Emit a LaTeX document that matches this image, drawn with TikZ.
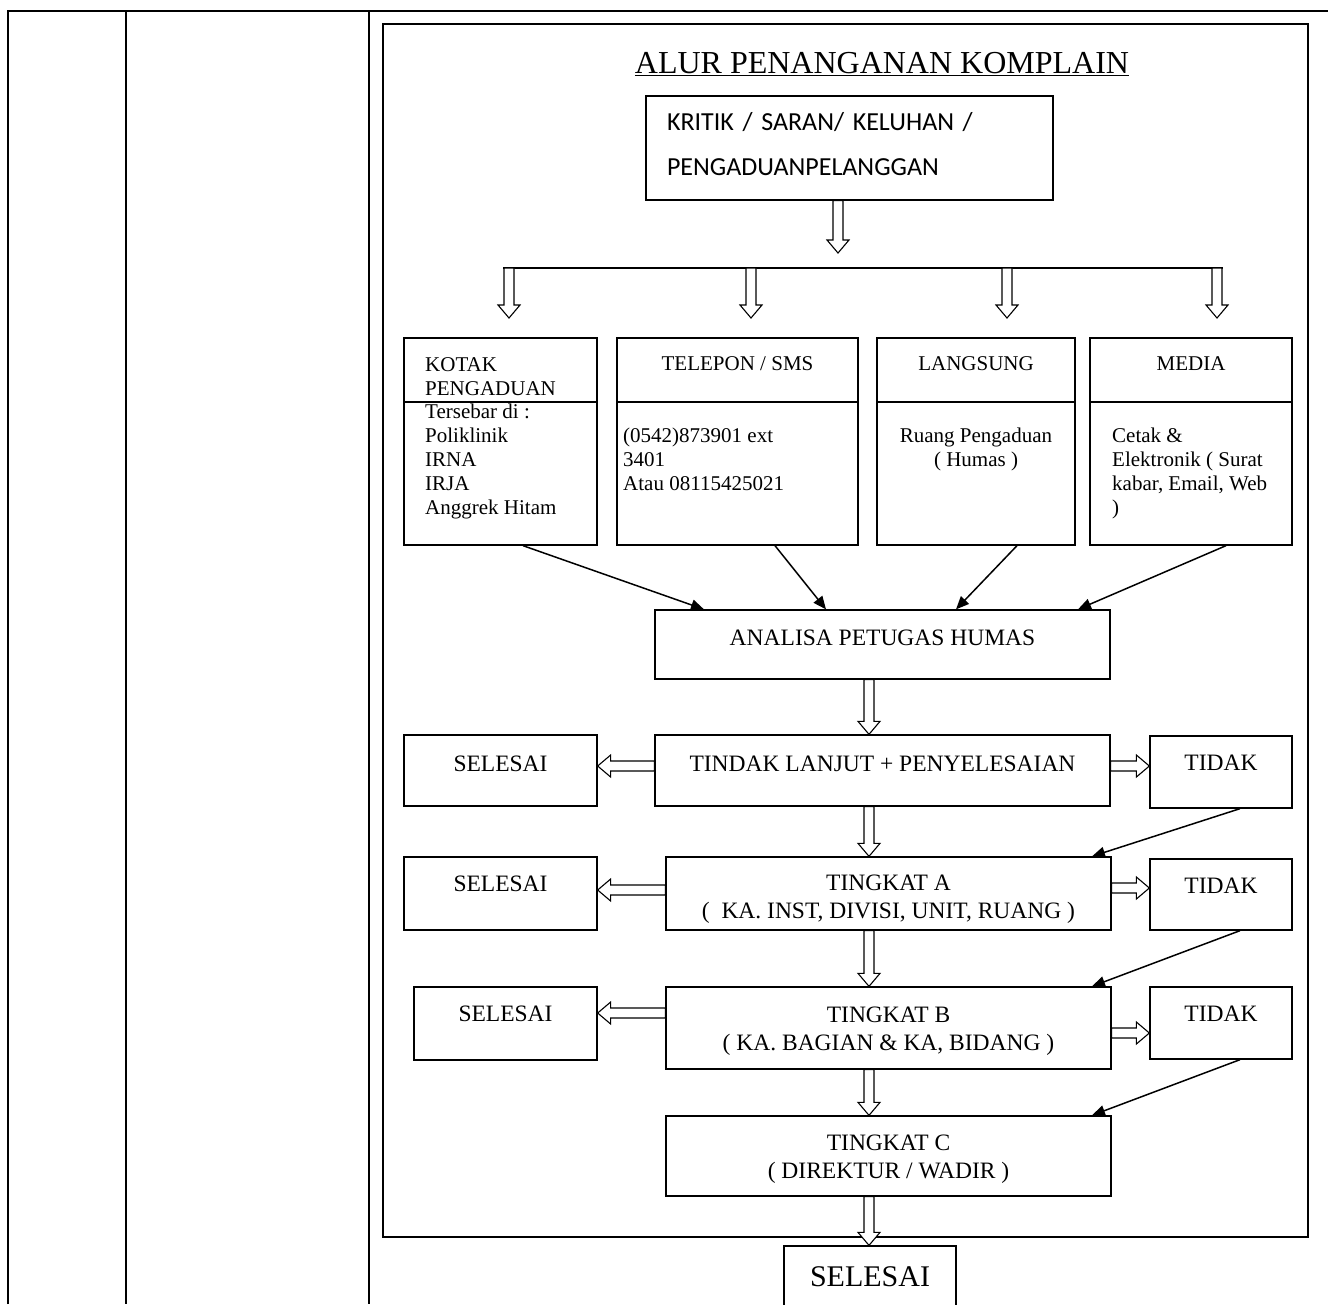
\documentclass[tikz,border=0pt]{standalone}
\usepackage{fontspec}
\setmainfont{Liberation Serif}
\newfontfamily\sansfont{Carlito}
\usetikzlibrary{calc,arrows.meta}
\tikzset{>={Triangle[length=13pt,width=11pt]}}
\tikzset{box/.style={draw,line width=1.3pt,inner sep=0pt,align=center,font=\fontsize{23.5}{28}\selectfont},
	src/.style={draw,line width=1.3pt,inner sep=0pt},
	txt/.style={inner sep=0pt,align=left,font=\fontsize{21}{23.8}\selectfont},
	fat/.style={draw,fill=white,line width=1.1pt,line join=miter},
	slantarrow/.style={->,line width=1.5pt},
	gridline/.style={line width=2.3pt},
	frameline/.style={line width=2pt},
	lift/.style={text height=16pt,text depth=#1},
	twoline/.style={text height=#1,text depth=0pt}}
\newcommand{\drawbox}{\node[box]}
\newcommand{\drawdummy}{\coordinate}
% hollow block arrow from #1 to #2
\newcommand{\hollow}[2]{\draw[fat] ($(#1)!5pt!90:(#2)$) -- ($(#2)!13pt!(#1)!5pt!90:(#2)$)
	-- ($(#2)!13pt!(#1)!11pt!90:(#2)$) -- (#2) -- ($(#2)!13pt!(#1)!11pt!-90:(#2)$)
	-- ($(#2)!13pt!(#1)!5pt!-90:(#2)$) -- ($(#1)!5pt!-90:(#2)$) -- cycle;}

\begin{document}
\begin{tikzpicture}[x=1pt,y=-1pt]
	\useasboundingbox (0,0) rectangle (1328,1304);
	
	\draw[gridline] (8,1304) -- (8,11) -- (1328,11);
	\draw[gridline] (126,11) -- (126,1304);
	\draw[gridline] (369,11) -- (369,1304);
	\draw[frameline] (383,24) rectangle (1308,1237);
	
	\node[font=\fontsize{32}{36}\selectfont] (title) at (882,64) {\underline{ALUR PENANGANAN KOMPLAIN}};
	\drawbox[minimum width=407pt,minimum height=104pt,align=left,text width=365pt,
		font=\sansfont\fontsize{26}{45}\selectfont,text height=19pt,text depth=55pt] (kritik) at (849.5,148)
		{KRITIK / SARAN/ KELUHAN /\\PENGADUANPELANGGAN};
	
	% sumber pengaduan
	\node[src,minimum width=193pt,minimum height=207pt] (kotak) at (500.5,441.5) {};
	\node[src,minimum width=241pt,minimum height=207pt] (telp) at (737.5,441.5) {};
	\node[src,minimum width=198pt,minimum height=207pt] (lgs) at (976,441.5) {};
	\node[src,minimum width=202pt,minimum height=207pt] (media) at (1191,441.5) {};
	\foreach \n in {kotak,telp,lgs,media}
		\draw[line width=1.3pt] (\n.west |- 0,402) -- (\n.east |- 0,402);
	
	\node[txt,anchor=base west] (kotakt) at (425,514) {KOTAK\\PENGADUAN\\Tersebar di :\\Poliklinik\\IRNA\\IRJA\\Anggrek Hitam};
	\node[txt,anchor=base] (telph) at (737.5,370) {TELEPON / SMS};
	\node[txt,anchor=base west] (telpt) at (623,490) {(0542)873901 ext\\3401\\Atau 08115425021};
	\node[txt,anchor=base] (lgsh) at (976,370) {LANGSUNG};
	\node[txt,anchor=base,align=center] (lgst) at (976,466) {Ruang Pengaduan\\( Humas )};
	\node[txt,anchor=base] (mediah) at (1191,370) {MEDIA};
	\node[txt,anchor=base west] (mediat) at (1112,514) {Cetak \&\\Elektronik ( Surat\\kabar, Email, Web\\)};
	
	\drawbox[minimum width=455pt,minimum height=69pt,lift=15pt] (anl) at (882.5,644.5) {ANALISA PETUGAS HUMAS};
	\drawbox[minimum width=455pt,minimum height=71pt,lift=15pt] (tl) at (882.5,770.5) {TINDAK LANJUT + PENYELESAIAN};
	\drawbox[minimum width=193pt,minimum height=71pt,lift=15pt] (sel1) at (500.5,770.5) {SELESAI};
	\drawbox[minimum width=142pt,minimum height=72pt,lift=20pt] (tdk1) at (1221,772) {TIDAK};
	
	\drawbox[minimum width=445pt,minimum height=73pt,twoline=50pt] (ta) at (888.5,893.5) {TINGKAT A\\(~~KA. INST, DIVISI, UNIT, RUANG )};
	\drawbox[minimum width=193pt,minimum height=73pt,lift=21pt] (sel2) at (500.5,893.5) {SELESAI};
	\drawbox[minimum width=142pt,minimum height=71pt,lift=19pt] (tdk2) at (1221,894.5) {TIDAK};
	
	\drawbox[minimum width=445pt,minimum height=82pt,twoline=44pt] (tb) at (888.5,1028) {TINGKAT B\\( KA. BAGIAN \& KA, BIDANG )};
	\drawbox[minimum width=183pt,minimum height=73pt,lift=21pt] (sel3) at (505.5,1023.5) {SELESAI};
	\drawbox[minimum width=142pt,minimum height=72pt,lift=20pt] (tdk3) at (1221,1023) {TIDAK};
	
	\drawbox[minimum width=445pt,minimum height=80pt,twoline=44pt] (tc) at (888.5,1156) {TINGKAT C\\( DIREKTUR / WADIR )};
	\drawbox[minimum width=172pt,minimum height=74pt,font=\fontsize{30}{36}\selectfont,
		text height=20pt,text depth=14pt] (sel4) at (870,1283) {SELESAI};
	
	% panah
	\drawdummy (fork) at (838,253);
	\hollow{kritik.south -| fork}{fork};
	\foreach \x [count=\i] in {509,751,1007,1217} {
		\drawdummy (br\i) at (\x,268);
		\drawdummy (in\i) at (\x,318);
	}
	\draw[line width=1.5pt] ($(br1)+(-6,0)$) -- ($(br4)+(6,0)$);
	\foreach \i in {1,...,4}
		\hollow{br\i}{in\i};
	
	\draw[slantarrow] (kotak.south -| 523,0) -- (anl.north -| 704,0);
	\draw[slantarrow] (telp.south -| 775,0) -- (anl.north -| 826,0);
	\draw[slantarrow] (lgs.south -| 1017,0) -- (anl.north -| 956,0);
	\draw[slantarrow] (media.south -| 1226,0) -- (anl.north -| 1078,0);
	
	\hollow{anl.south -| 869,0}{tl.north -| 869,0};
	\hollow{tl.south -| 869,0}{ta.north -| 869,0};
	\hollow{ta.south -| 869,0}{tb.north -| 869,0};
	\hollow{tb.south -| 869,0}{tc.north -| 869,0};
	\hollow{tc.south -| 869,0}{sel4.north -| 869,0};
	
	\hollow{tl.west |- 0,766}{sel1.east |- 0,766};
	\hollow{tl.east |- 0,766}{tdk1.west |- 0,766};
	\hollow{ta.west |- 0,890}{sel2.east |- 0,890};
	\hollow{ta.east |- 0,888}{tdk2.west |- 0,888};
	\hollow{tb.west |- 0,1013}{sel3.east |- 0,1013};
	\hollow{tb.east |- 0,1033}{tdk3.west |- 0,1033};
	
	\draw[slantarrow] (tdk1.south -| 1240,0) -- (ta.north -| 1092,0);
	\draw[slantarrow] (tdk2.south -| 1240,0) -- (tb.north -| 1092,0);
	\draw[slantarrow] (tdk3.south -| 1240,0) -- (tc.north -| 1092,0);
	
\end{tikzpicture}
\end{document}
